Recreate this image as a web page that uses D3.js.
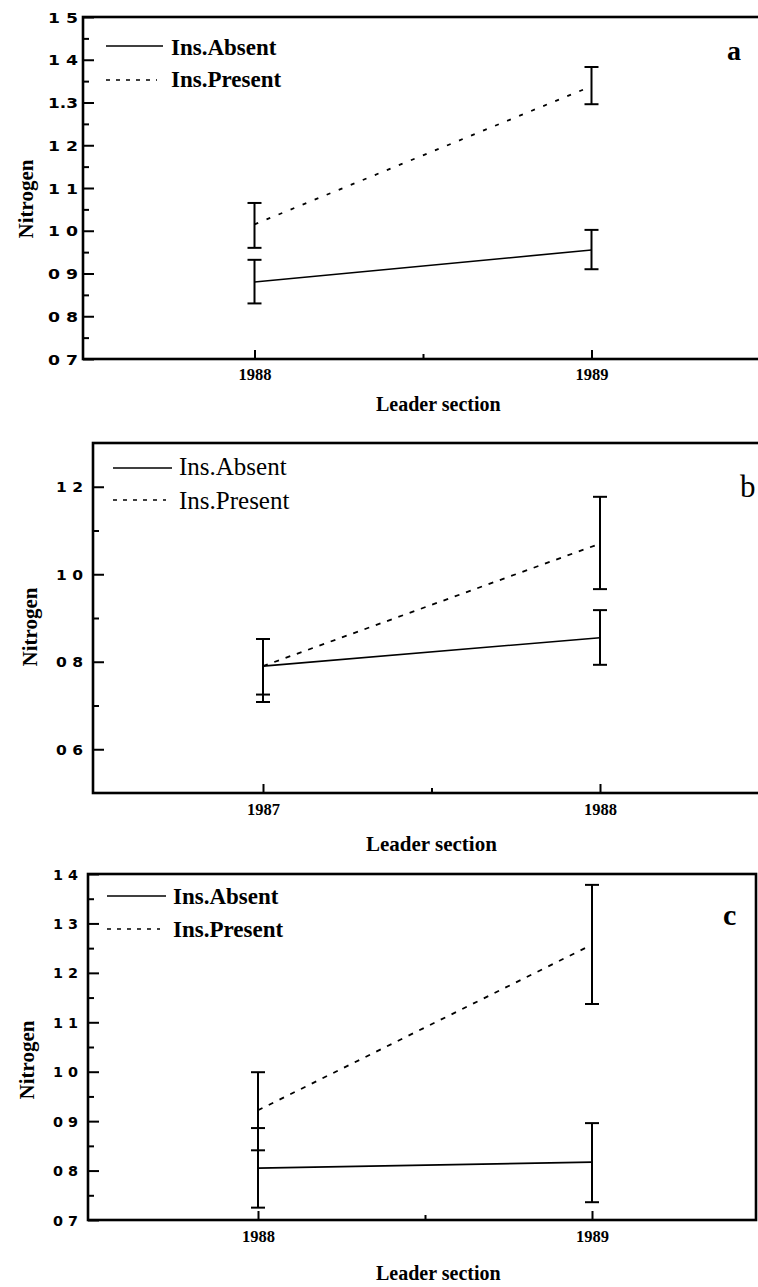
<!DOCTYPE html>
<html>
<head>
<meta charset="utf-8">
<script src="https://cdn.jsdelivr.net/npm/d3@7"></script>
<style>
  body { margin: 0; background: #fff; }
  svg { display: block; }
</style>
</head>
<body>
<svg id="fig" width="758" height="1287"></svg>
<script>
// ---- Panel a : leader sections 1988-1989 ----
const yearsA = [1988, 1989];
const absentA = [0.88, 0.955];
const absentALow = [0.83, 0.91];
const absentAHigh = [0.932, 1.002];
const presentA = [1.015, 1.338];
const presentALow = [0.96, 1.296];
const presentAHigh = [1.065, 1.383];
const yMajorA = [0.7, 0.8, 0.9, 1.0, 1.1, 1.2, 1.3, 1.4, 1.5];
const yLabelsA = ["0 7", "0 8", "0 9", "1 0", "1 1", "1 2", "1.3", "1 4", "1 5"];
const yMinorA = [0.75, 0.85, 0.95, 1.05, 1.15, 1.25, 1.35, 1.45];
const xLabelsA = ["1988", "1989"];

// ---- Panel b : leader sections 1987-1988 ----
const yearsB = [1987, 1988];
const absentB = [0.79, 0.855];
const absentBLow = [0.725, 0.793];
const absentBHigh = [0.852, 0.918];
const presentB = [0.79, 1.07];
const presentBLow = [0.708, 0.966];
const presentBHigh = [0.852, 1.177];
const yMajorB = [0.6, 0.8, 1.0, 1.2];
const yLabelsB = ["0 6", "0 8", "1 0", "1 2"];
const yMinorB = [0.7, 0.9, 1.1];
const xLabelsB = ["1987", "1988"];

// ---- Panel c : leader sections 1988-1989 ----
const yearsC = [1988, 1989];
const absentC = [0.805, 0.817];
const absentCLow = [0.725, 0.736];
const absentCHigh = [0.886, 0.896];
const presentC = [0.922, 1.257];
const presentCLow = [0.841, 1.137];
const presentCHigh = [0.999, 1.378];
const yMajorC = [0.7, 0.8, 0.9, 1.0, 1.1, 1.2, 1.3, 1.4];
const yLabelsC = ["0 7", "0 8", "0 9", "1 0", "1 1", "1 2", "1 3", "1 4"];
const yMinorC = [0.75, 0.85, 0.95, 1.05, 1.15, 1.25, 1.35];
const xLabelsC = ["1988", "1989"];

const seriesNames = ["Ins.Absent", "Ins.Present"];
const xTitle = "Leader section";
const yTitle = "Nitrogen";

const SERIF = "'Liberation Serif', 'Times New Roman', serif";
const SANS = "'DejaVu Sans', 'Liberation Sans', Arial, sans-serif";

const svg = d3.select("#fig");

function drawPanel(p) {
  const g = svg.append("g");
  const x = d3.scaleLinear().domain(p.xDomain).range(p.xRange);
  const y = d3.scaleLinear().domain(p.yDomain).range([p.bottom, p.top]);

  // Y axis: major ticks with labels, minor ticks without (all pointing inward)
  const yAx = g.append("g").attr("transform", `translate(${p.left},0)`)
    .call(d3.axisLeft(y).tickValues(p.yMajor).tickSizeInner(-11).tickSizeOuter(0)
      .tickPadding(p.yPad).tickFormat((d, i) => p.yLabels[i]));
  yAx.select(".domain").remove();
  yAx.selectAll("line").attr("stroke", "#000").attr("stroke-width", 2);
  yAx.selectAll("text")
    .attr("font-family", SANS).attr("font-weight", "bold").attr("font-size", 14)
    .attr("fill", "#000").attr("dy", "0.36em")
    .attr("textLength", p.yLabelWidth).attr("lengthAdjust", "spacingAndGlyphs");

  const yMin = g.append("g").attr("transform", `translate(${p.left},0)`)
    .call(d3.axisLeft(y).tickValues(p.yMinor).tickSizeInner(-6).tickSizeOuter(0).tickFormat(""));
  yMin.select(".domain").remove();
  yMin.selectAll("line").attr("stroke", "#000").attr("stroke-width", 2);

  // X axis: year ticks and a half-year minor tick
  const xAx = g.append("g").attr("transform", `translate(0,${p.bottom})`)
    .call(d3.axisBottom(x).tickValues(p.years).tickSizeInner(-9).tickSizeOuter(0)
      .tickFormat((d, i) => p.xLabels[i]));
  xAx.select(".domain").remove();
  xAx.selectAll("line").attr("stroke", "#000").attr("stroke-width", 2);
  xAx.selectAll("text")
    .attr("font-family", SERIF).attr("font-weight", "bold").attr("font-size", 16)
    .attr("fill", "#000").attr("y", p.xLabelOffset).attr("dy", 0)
    .attr("textLength", 33).attr("lengthAdjust", "spacingAndGlyphs");

  const xMin = g.append("g").attr("transform", `translate(0,${p.bottom})`)
    .call(d3.axisBottom(x).tickValues([d3.mean(p.years)]).tickSizeInner(-5).tickSizeOuter(0).tickFormat(""));
  xMin.select(".domain").remove();
  xMin.selectAll("line").attr("stroke", "#000").attr("stroke-width", 2);

  // Frame
  g.append("rect")
    .attr("x", p.left).attr("y", p.top)
    .attr("width", p.right - p.left).attr("height", p.bottom - p.top)
    .attr("fill", "none").attr("stroke", "#000").attr("stroke-width", 2.6);

  // Series lines
  const line = d3.line().x(d => x(d[0])).y(d => y(d[1]));
  const series = [
    { mean: p.absent, low: p.absentLow, high: p.absentHigh, dash: null, width: 1.6 },
    { mean: p.present, low: p.presentLow, high: p.presentHigh, dash: p.dash, width: 1.8 }
  ];
  series.forEach(s => {
    g.append("path")
      .datum(p.years.map((yr, i) => [yr, s.mean[i]]))
      .attr("d", line).attr("fill", "none").attr("stroke", "#000")
      .attr("stroke-width", s.width)
      .attr("stroke-dasharray", s.dash);
  });

  // Error bars
  const cap = 7;
  series.forEach(s => {
    p.years.forEach((yr, i) => {
      const cx = x(yr);
      g.append("line").attr("x1", cx).attr("x2", cx)
        .attr("y1", y(s.low[i])).attr("y2", y(s.high[i]))
        .attr("stroke", "#000").attr("stroke-width", 2);
      [s.low[i], s.high[i]].forEach(v => {
        g.append("line").attr("x1", cx - cap).attr("x2", cx + cap)
          .attr("y1", y(v)).attr("y2", y(v))
          .attr("stroke", "#000").attr("stroke-width", 2);
      });
    });
  });

  // Legend
  const lg = p.legend;
  g.append("line").attr("x1", lg.x0).attr("x2", lg.x1).attr("y1", lg.y0).attr("y2", lg.y0)
    .attr("stroke", "#000").attr("stroke-width", 1.6);
  g.append("line").attr("x1", lg.x0).attr("x2", lg.x1 - 6).attr("y1", lg.y1).attr("y2", lg.y1)
    .attr("stroke", "#000").attr("stroke-width", 1.6).attr("stroke-dasharray", "4,6");
  [[seriesNames[0], lg.t0], [seriesNames[1], lg.t1]].forEach(([t, by]) => {
    g.append("text").attr("x", lg.tx).attr("y", by)
      .attr("font-family", SERIF).attr("font-weight", lg.weight).attr("font-size", lg.size)
      .attr("fill", "#000").text(t);
  });

  // Panel letter
  g.append("text").attr("x", p.tag.x).attr("y", p.tag.y)
    .attr("font-family", SERIF).attr("font-weight", p.tag.weight).attr("font-size", p.tag.size)
    .attr("fill", "#000").text(p.tag.text);

  // Axis titles
  g.append("text").attr("x", p.xTitle.x).attr("y", p.xTitle.y)
    .attr("font-family", SERIF).attr("font-weight", "bold").attr("font-size", p.xTitle.size)
    .attr("fill", "#000").text(xTitle);
  g.append("text")
    .attr("transform", `translate(${p.yTitle.x},${p.yTitle.y}) rotate(-90)`)
    .attr("text-anchor", "middle")
    .attr("font-family", SERIF).attr("font-weight", "bold").attr("font-size", 21)
    .attr("fill", "#000").text(yTitle);
}

drawPanel({
  left: 83, right: 764, top: 17, bottom: 359,
  xDomain: [1987.5, 1989.5], xRange: [86, 760], yDomain: [0.7, 1.5],
  years: yearsA, xLabels: xLabelsA,
  yMajor: yMajorA, yLabels: yLabelsA, yMinor: yMinorA, yPad: 5, yLabelWidth: 30,
  xLabelOffset: 21,
  absent: absentA, absentLow: absentALow, absentHigh: absentAHigh,
  present: presentA, presentLow: presentALow, presentHigh: presentAHigh,
  dash: "4,9",
  legend: { x0: 106, x1: 163, y0: 46, y1: 80, tx: 171, t0: 55, t1: 87, size: 23, weight: "bold" },
  tag: { text: "a", x: 727, y: 60, size: 28, weight: "bold" },
  xTitle: { x: 376, y: 411, size: 20 },
  yTitle: { x: 33, y: 199 }
});

drawPanel({
  left: 93, right: 770, top: 443, bottom: 793,
  xDomain: [1986.5, 1988.5], xRange: [94.5, 768.5], yDomain: [0.5, 1.3],
  years: yearsB, xLabels: xLabelsB,
  yMajor: yMajorB, yLabels: yLabelsB, yMinor: yMinorB, yPad: 10, yLabelWidth: 27,
  xLabelOffset: 22,
  absent: absentB, absentLow: absentBLow, absentHigh: absentBHigh,
  present: presentB, presentLow: presentBLow, presentHigh: presentBHigh,
  dash: "5,7",
  legend: { x0: 113, x1: 172, y0: 468, y1: 500, tx: 179, t0: 475, t1: 509, size: 25, weight: "normal" },
  tag: { text: "b", x: 740, y: 497, size: 31, weight: "normal" },
  xTitle: { x: 366, y: 851, size: 21 },
  yTitle: { x: 37, y: 627 }
});

drawPanel({
  left: 88, right: 756, top: 874, bottom: 1220,
  xDomain: [1987.5, 1989.5], xRange: [91, 759], yDomain: [0.7, 1.4],
  years: yearsC, xLabels: xLabelsC,
  yMajor: yMajorC, yLabels: yLabelsC, yMinor: yMinorC, yPad: 10, yLabelWidth: 25,
  xLabelOffset: 22,
  absent: absentC, absentLow: absentCLow, absentHigh: absentCHigh,
  present: presentC, presentLow: presentCLow, presentHigh: presentCHigh,
  dash: "5,7",
  legend: { x0: 107, x1: 166, y0: 896, y1: 929, tx: 173, t0: 904, t1: 937, size: 23, weight: "bold" },
  tag: { text: "c", x: 723, y: 925, size: 30, weight: "bold" },
  xTitle: { x: 376, y: 1280, size: 20 },
  yTitle: { x: 34, y: 1060 }
});
</script>
</body>
</html>
